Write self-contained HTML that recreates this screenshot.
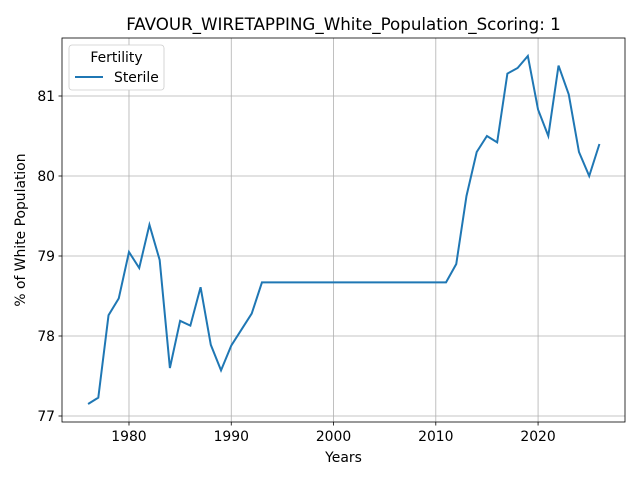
<!DOCTYPE html>
<html><head><meta charset="utf-8"><style>
body{margin:0;background:#fff;font-family:"Liberation Sans","DejaVu Sans",sans-serif}
</style></head><body>
<svg id="chart" width="640" height="480" xmlns="http://www.w3.org/2000/svg" font-family="DejaVu Sans, Liberation Sans, sans-serif"></svg>
<script>
const years=[];for(let y=1976;y<=2026;y++)years.push(y);
const values=[77.15,77.23,78.26,78.47,79.05,78.85,79.39,78.95,77.60,78.19,78.13,78.61,77.89,77.57,77.88,78.08,78.28,78.67,
78.67,78.67,78.67,78.67,78.67,78.67,78.67,78.67,78.67,78.67,78.67,78.67,78.67,78.67,78.67,78.67,78.67,78.67,
78.90,79.75,80.30,80.50,80.42,81.28,81.35,81.50,80.83,80.50,81.38,81.02,80.30,80.00,80.40];
const xTicks=[1980,1990,2000,2010,2020];
const yTicks=[77,78,79,80,81];
const L=62,R=625,T=38,B=422;
const xMin=1973.45,xMax=2028.5,yMin=76.925,yMax=81.725;
const sx=v=>L+(v-xMin)/(xMax-xMin)*(R-L);
const sy=v=>B-(v-yMin)/(yMax-yMin)*(B-T);
const svg=document.getElementById('chart');const NS='http://www.w3.org/2000/svg';
function mk(t,a,p){const e=document.createElementNS(NS,t);for(const k in a)e.setAttribute(k,a[k]);(p||svg).appendChild(e);return e;}
xTicks.forEach(t=>{const x=sx(t);
const g=mk('line',{x1:x,x2:x,y1:T,y2:B,stroke:'#b0b0b0','stroke-width':0.8});


mk('line',{x1:x,x2:x,y1:B,y2:B+3.5,stroke:'#000','stroke-width':0.8});
const tx=mk('text',{x:x,y:B+19,'text-anchor':'middle','font-size':13.9});tx.textContent=t;

});
yTicks.forEach(t=>{const y=sy(t);
const g=mk('line',{x1:L,x2:R,y1:y,y2:y,stroke:'#b0b0b0','stroke-width':0.8});


mk('line',{x1:L-3.5,x2:L,y1:y,y2:y,stroke:'#000','stroke-width':0.8});
const tx=mk('text',{x:L-7,y:y+5,'text-anchor':'end','font-size':13.9});tx.textContent=t;

});
const pl=mk('polyline',{points:years.map((y,i)=>sx(y)+','+sy(values[i])).join(' '),fill:'none',stroke:'#1f77b4','stroke-width':2});


const fr=mk('rect',{x:L,y:T,width:R-L,height:B-T,fill:'none',stroke:'#000','stroke-width':0.8});


const ti=mk('text',{x:(L+R)/2,y:T-8,'text-anchor':'middle','font-size':16.7});ti.textContent='FAVOUR_WIRETAPPING_White_Population_Scoring: 1';


const xl=mk('text',{x:(L+R)/2,y:462,'text-anchor':'middle','font-size':13.9});xl.textContent='Years';


const yl=mk('text',{x:0,y:0,'text-anchor':'middle','font-size':13.9,transform:`translate(25,${(T+B)/2}) rotate(-90)`});yl.textContent='% of White Population';


const lg=mk('g',{});


mk('rect',{x:69,y:45,width:95,height:45,rx:3,fill:'#fff',stroke:'#ccc','stroke-width':0.8},lg);
const lt=mk('text',{x:116.5,y:62,'text-anchor':'middle','font-size':13.9},lg);lt.textContent='Fertility';


mk('line',{x1:75,x2:103,y1:77,y2:77,stroke:'#1f77b4','stroke-width':2},lg);
const le=mk('text',{x:114,y:82,'font-size':13.9},lg);le.textContent='Sterile';


</script>
</body></html>
